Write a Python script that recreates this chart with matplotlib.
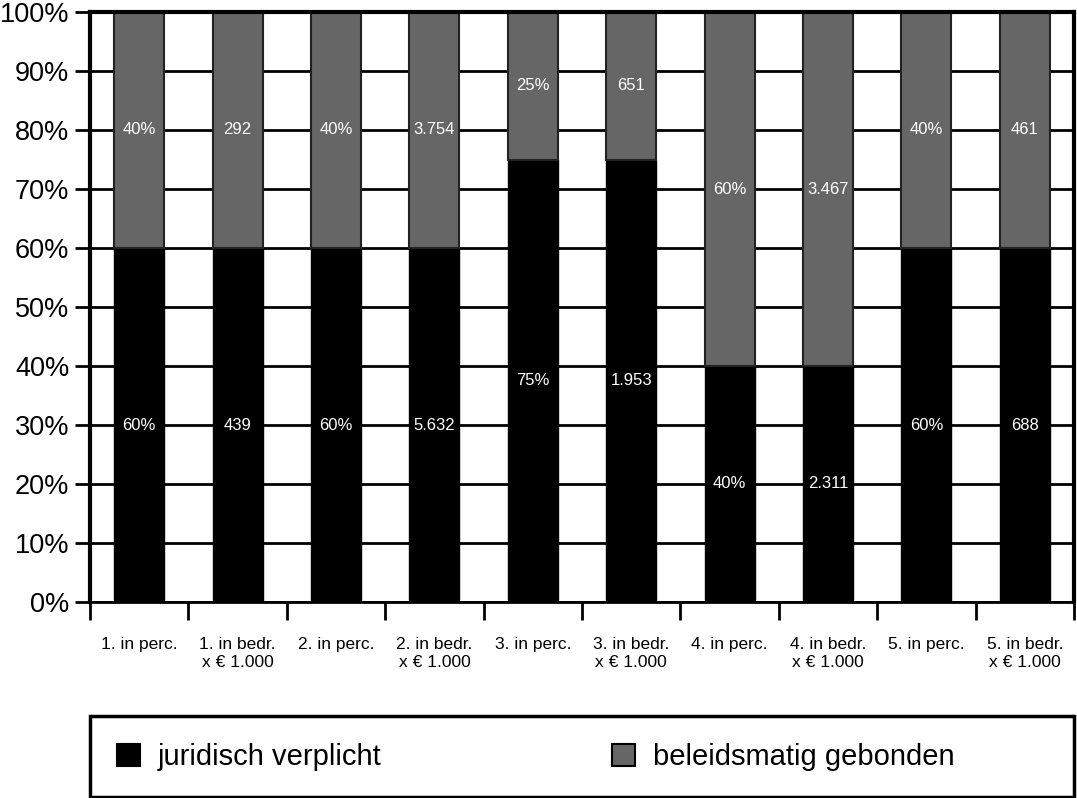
import matplotlib
matplotlib.use("Agg")
import matplotlib.pyplot as plt
from matplotlib.patches import Rectangle, Patch
import numpy as np

categories = ["1. in perc.", "1. in bedr.\nx € 1.000", "2. in perc.", "2. in bedr.\nx € 1.000",
              "3. in perc.", "3. in bedr.\nx € 1.000", "4. in perc.", "4. in bedr.\nx € 1.000",
              "5. in perc.", "5. in bedr.\nx € 1.000"]
juridisch = [0.60, 0.60, 0.60, 0.60, 0.75, 0.75, 0.40, 0.40, 0.60, 0.60]
beleid = [0.40, 0.40, 0.40, 0.40, 0.25, 0.25, 0.60, 0.60, 0.40, 0.40]
juridisch_labels = ["60%", "439", "60%", "5.632", "75%", "1.953", "40%", "2.311", "60%", "688"]
beleid_labels = ["40%", "292", "40%", "3.754", "25%", "651", "60%", "3.467", "40%", "461"]
series_names = ["juridisch verplicht", "beleidsmatig gebonden"]
yticks = np.arange(0, 1.01, 0.1)

plt.rcParams['font.family'] = ['Liberation Sans', 'DejaVu Sans']

W, H = 1077, 798
fig = plt.figure(figsize=(W / 100, H / 100), dpi=100)
ax = fig.add_axes([90 / W, 1 - 602 / H, 984 / W, 590 / H])

x = np.arange(len(categories))
ax.set_axisbelow(True)
for yv in yticks:
    ax.axhline(yv, color='black', lw=2, zorder=0)

ax.bar(x, juridisch, width=0.51, color='black', edgecolor='black', lw=1, zorder=2)
ax.bar(x, beleid, bottom=juridisch, width=0.51, color='#666666', edgecolor='#222222', lw=1.5, zorder=2)

for i in range(len(x)):
    ax.text(x[i], juridisch[i] / 2, juridisch_labels[i], color='white', ha='center', va='center', fontsize=12)
    ax.text(x[i], juridisch[i] + beleid[i] / 2, beleid_labels[i], color='white', ha='center', va='center', fontsize=12)

ax.set_xlim(-0.5, len(categories) - 0.5)
ax.set_ylim(0, 1)
ax.set_yticks(yticks)
ax.set_yticklabels([f"{int(round(v * 100))}%" for v in yticks], fontsize=19.5)
ax.tick_params(axis='y', length=11, width=2, pad=4, color='black')

ax.set_xticks(x)
ax.set_xticklabels(categories, fontsize=12.5, linespacing=1.25)
ax.set_xticks(np.arange(-0.5, len(categories), 1), minor=True)
ax.tick_params(axis='x', which='major', length=0, pad=25)
ax.tick_params(axis='x', which='minor', length=13, width=2, direction='out')

for side in ['left', 'right']:
    ax.spines[side].set_linewidth(3)
ax.spines['top'].set_linewidth(3)
ax.spines['bottom'].set_linewidth(2)

# legend box
fig.patches.append(Rectangle((90 / W, 1 - 797 / H), 984 / W, 81 / H, transform=fig.transFigure,
                             fill=False, edgecolor='black', lw=2.5))
handles = [Patch(facecolor='black', edgecolor='black', lw=1.5),
           Patch(facecolor='#666666', edgecolor='black', lw=1.5)]
fig.legend(handles, series_names, loc='center left', bbox_to_anchor=(117 / W, 1 - 757 / H),
           ncol=2, frameon=False, fontsize=21, handlelength=0.8, handleheight=0.8,
           handletextpad=0.6, columnspacing=7.9, borderaxespad=0, borderpad=0)

fig.savefig("out.png", dpi=100)
